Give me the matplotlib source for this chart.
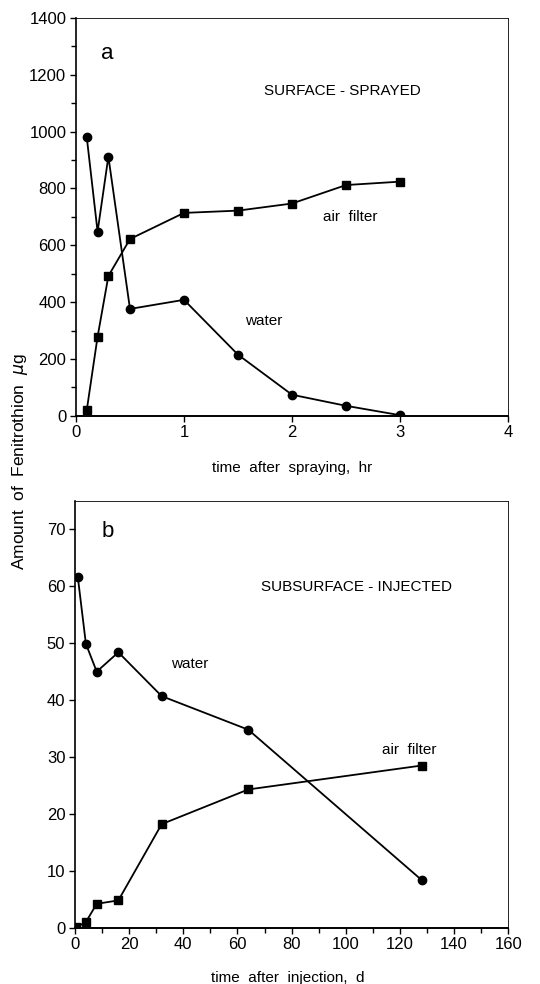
import matplotlib
matplotlib.use("Agg")
import matplotlib.pyplot as plt
from matplotlib.ticker import MultipleLocator

plt.rcParams['font.family'] = ['Liberation Sans', 'DejaVu Sans']

# panel a: surface-sprayed
t_spray = [0.1, 0.2, 0.3, 0.5, 1.0, 1.5, 2.0, 2.5, 3.0]
water_a = [980, 648, 912, 376, 408, 215, 74, 35, 2]
air_a = [20, 278, 492, 622, 714, 722, 747, 812, 824]

# panel b: subsurface-injected
t_water_b = [1, 4, 8, 16, 32, 64, 128]
water_b = [61.7, 49.9, 45.0, 48.4, 40.7, 34.8, 8.4]
t_air_b = [0.5, 4, 8, 16, 32, 64, 128]
air_b = [0.1, 1.0, 4.2, 4.8, 18.2, 24.3, 28.5]

fig = plt.figure(figsize=(5.4, 9.84), dpi=100)
ax1 = fig.add_axes([0.1407, 0.5775, 0.800, 0.4042])
ax2 = fig.add_axes([0.1390, 0.0572, 0.8020, 0.4337])

tick_fs = 12
for ax in (ax1, ax2):
    ax.spines['left'].set_linewidth(1.2)
    ax.spines['bottom'].set_linewidth(1.4)
    ax.spines['top'].set_linewidth(0.6)
    ax.spines['right'].set_linewidth(0.6)
    ax.tick_params(which='both', direction='out', labelsize=tick_fs, width=1.0)
    ax.tick_params(which='major', length=4.5, pad=2.5)
    ax.tick_params(which='minor', length=3.5)

line_kw = dict(color='black', lw=1.3)
ax1.plot(t_spray, water_a, marker='o', ms=6, **line_kw)
ax1.plot(t_spray, air_a, marker='s', ms=5.2, **line_kw)
ax1.set_xlim(0, 4)
ax1.set_ylim(0, 1400)
ax1.xaxis.set_major_locator(MultipleLocator(1))
ax1.yaxis.set_major_locator(MultipleLocator(200))
ax1.yaxis.set_minor_locator(MultipleLocator(100))
ax1.text(0.287, 1276, 'a', fontsize=16, ha='center', va='center')
ax1.text(2.47, 1143, 'SURFACE - SPRAYED', fontsize=11, ha='center', va='center')
ax1.text(2.54, 700, 'air  filter', fontsize=11, ha='center', va='center')
ax1.text(1.74, 332, 'water', fontsize=11, ha='center', va='center')

ax2.plot(t_water_b, water_b, marker='o', ms=6, **line_kw)
ax2.plot(t_air_b, air_b, marker='s', ms=5.2, **line_kw)
ax2.set_xlim(0, 160)
ax2.set_ylim(0, 75)
ax2.xaxis.set_major_locator(MultipleLocator(20))
ax2.xaxis.set_minor_locator(MultipleLocator(10))
ax2.yaxis.set_major_locator(MultipleLocator(10))
ax2.text(11.9, 69.6, 'b', fontsize=16, ha='center', va='center')
ax2.text(104, 59.9, 'SUBSURFACE - INJECTED', fontsize=11, ha='center', va='center')
ax2.text(42.5, 46.3, 'water', fontsize=11, ha='center', va='center')
ax2.text(123.4, 31.3, 'air  filter', fontsize=11, ha='center', va='center')

fig.text(292.5 / 540, 1 - 468 / 984, 'time  after  spraying,  hr', fontsize=11,
         ha='center', va='center')
fig.text(288 / 540, 1 - 978 / 984, 'time  after  injection,  d', fontsize=11,
         ha='center', va='center')
fig.text(20 / 540, 1 - 462 / 984, 'Amount  of  Fenitrothion  $\\mu$g', fontsize=12.5,
         rotation=90, ha='center', va='center')

fig.savefig('out.png', dpi=100)
